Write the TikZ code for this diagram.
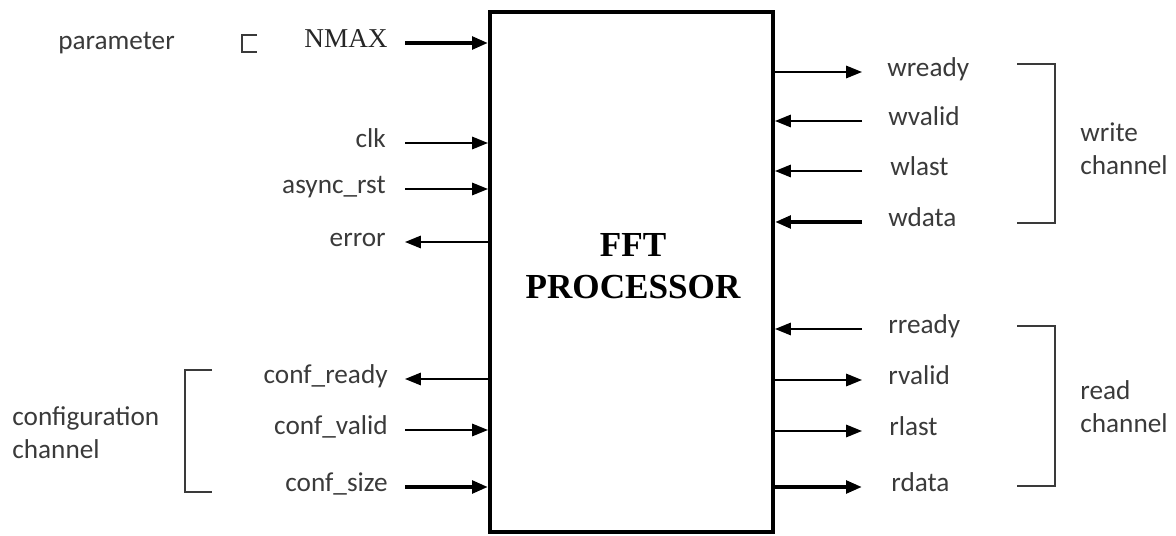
\documentclass[tikz,border=0pt]{standalone}
\usepackage{fontspec}
\setmainfont{Carlito}
\newfontfamily\timesfont{Liberation Serif}
\usetikzlibrary{calc,positioning,arrows.meta}
\definecolor{labelgray}{HTML}{3A3A3A}
\tikzset{
    >={Triangle[length=9pt,width=7pt]},
    signal/.style={draw, line width=1.1pt, ->},
    bussignal/.style={draw, line width=2.4pt, ->},
    portlabel/.style={
        inner sep=0pt,
        text=labelgray,
        font={\fontsize{15.5pt}{18.7pt}\selectfont}
    },
    serifport/.style={
        portlabel,
        text=black!85,
        font={\timesfont\fontsize{15.5pt}{18.7pt}\selectfont}
    },
    grouplabel/.style={portlabel, align=left, anchor=west},
    groupbracket/.style={draw=labelgray, line width=1.1pt},
}

\begin{document}
\begin{tikzpicture}[x=0.02cm,y=-0.02cm]
\useasboundingbox (0,0) rectangle (1176,536);

% the block
\node[draw, line width=2.3pt, minimum width=5.66cm, minimum height=10.4cm] (fft) at (631.5,272) {};
\node[align=center, font={\timesfont\bfseries\fontsize{20pt}{24pt}\selectfont}] (fftname) at (633,266) {FFT\\PROCESSOR};

% left side ports
\node[serifport, anchor=mid east] (nmax) at (388,43) {NMAX};
\node[portlabel, anchor=mid east] (clk) at (386,143) {clk};
\node[portlabel, anchor=mid east] (rst) at (386,189) {async\_rst};
\node[portlabel, anchor=mid east] (error) at (386,242) {error};
\node[portlabel, anchor=mid east] (confready) at (388,379) {conf\_ready};
\node[portlabel, anchor=mid east] (confvalid) at (388,430) {conf\_valid};
\node[portlabel, anchor=mid east] (confsize) at (388,487) {conf\_size};

\draw[bussignal] ($(nmax.mid east)+(17,0)$) -- (nmax.mid east -| fft.west);
\draw[signal] ($(clk.mid east)+(19,0)$) -- (clk.mid east -| fft.west);
\draw[signal] ($(rst.mid east)+(19,0)$) -- (rst.mid east -| fft.west);
\draw[signal] (error.mid east -| fft.west) -- ($(error.mid east)+(19,0)$);
\draw[signal] (confready.mid east -| fft.west) -- ($(confready.mid east)+(17,0)$);
\draw[signal] ($(confvalid.mid east)+(17,0)$) -- (confvalid.mid east -| fft.west);
\draw[bussignal] ($(confsize.mid east)+(17,0)$) -- (confsize.mid east -| fft.west);

% right side ports
\node[portlabel, anchor=mid west] (wready) at (887,72) {wready};
\node[portlabel, anchor=mid west] (wvalid) at (888,121) {wvalid};
\node[portlabel, anchor=mid west] (wlast) at (890,171) {wlast};
\node[portlabel, anchor=mid west] (wdata) at (888,222) {wdata};
\node[portlabel, anchor=mid west] (rready) at (888,329) {rready};
\node[portlabel, anchor=mid west] (rvalid) at (888,380) {rvalid};
\node[portlabel, anchor=mid west] (rlast) at (889,431) {rlast};
\node[portlabel, anchor=mid west] (rdata) at (891,487) {rdata};

\draw[signal] (wready.mid west -| fft.east) -- ($(wready.mid west)+(-25,0)$);
\draw[signal] ($(wvalid.mid west)+(-26,0)$) -- (wvalid.mid west -| fft.east);
\draw[signal] ($(wlast.mid west)+(-28,0)$) -- (wlast.mid west -| fft.east);
\draw[bussignal] ($(wdata.mid west)+(-26,0)$) -- (wdata.mid west -| fft.east);
\draw[signal] ($(rready.mid west)+(-26,0)$) -- (rready.mid west -| fft.east);
\draw[signal] (rvalid.mid west -| fft.east) -- ($(rvalid.mid west)+(-26,0)$);
\draw[signal] (rlast.mid west -| fft.east) -- ($(rlast.mid west)+(-27,0)$);
\draw[bussignal] (rdata.mid west -| fft.east) -- ($(rdata.mid west)+(-29,0)$);

% groups
\node[grouplabel] (param) at (58,43) {parameter};
\draw[groupbracket, line width=0.8pt] (257,35) -- (242,35) -- (242,52) -- (257,52);

\node[grouplabel] (confgroup) at (12,433) {configuration\\channel};
\draw[groupbracket] (212,370) -- (185,370) -- (185,492) -- (212,492);

\node[grouplabel] (wgroup) at (1080,149) {write\\channel};
\draw[groupbracket] (1017,64) -- (1055,64) -- (1055,223) -- (1017,223);

\node[grouplabel] (rgroup) at (1080,407) {read\\channel};
\draw[groupbracket] (1017,326) -- (1055,326) -- (1055,486) -- (1017,486);
\end{tikzpicture}
\end{document}
